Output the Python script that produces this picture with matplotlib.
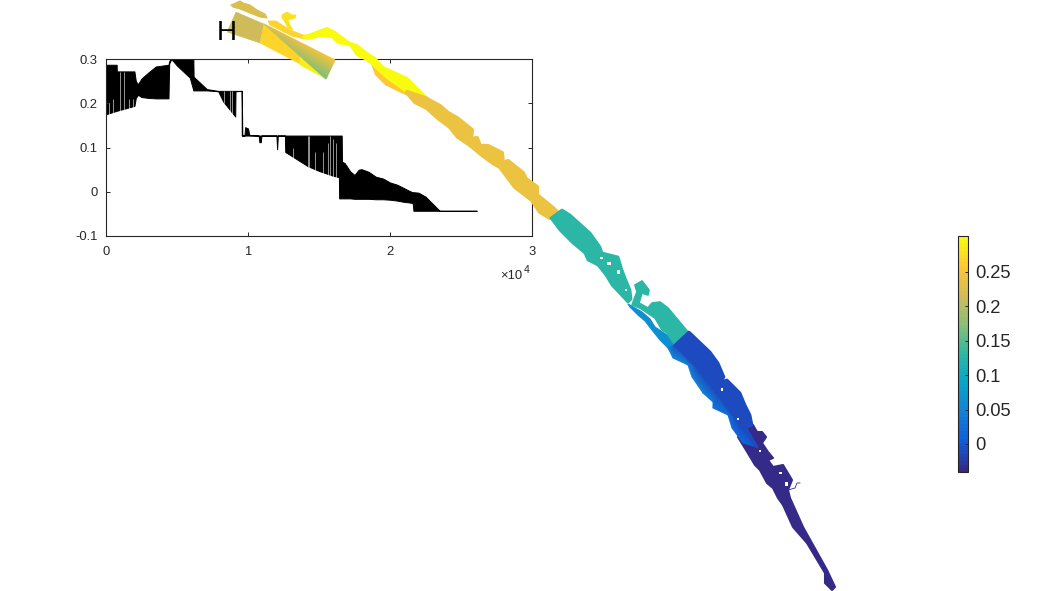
import numpy as np
import matplotlib
matplotlib.use('Agg')
import matplotlib.pyplot as plt
from matplotlib.colors import LinearSegmentedColormap, Normalize
from matplotlib.cm import ScalarMappable

plt.rcParams['font.family'] = ['Liberation Sans', 'DejaVu Sans']

# ------------------------------------------------------------------------------
# Inset trace, envelope (x in units of 1e4)
# ------------------------------------------------------------------------------
env_x = [0, .075, .076, .2, .21, .225, .25, .3, .35, .44, .445, .46, .5, .59, .615, .617, .71, .79, .825, .91, .912,
         .955, .956, .96, .975, .98, 1.0, 1.01, 1.075, 1.08, 1.09, 1.095, 1.2, 1.205, 1.21, 1.26, 1.262,
         1.42, 1.5, 1.6, 1.64, 1.642, 1.66, 1.662, 1.68, 1.72, 1.75, 1.78, 1.8, 1.85, 1.9, 1.95, 2.0, 2.05, 2.1, 2.13, 2.15, 2.16, 2.165, 2.2,
         2.25, 2.35, 2.61]
env_hi = [.287, .287, .272, .272, .25, .243, .256, .27, .283, .287, .295, .3, .3, .3, .3, .26, .232, .228, .228, .228, .228,
          .228, .228, .127, .127, .146, .143, .128, .127, .127, .127, .127, .127, .127, .127, .127, .127,
          .127, .127, .127, .127, .127, .127, .068, .065, .046, .038, .05, .051, .045, .034, .03, .021, .016, .008, .003, 0, -.001, -.001, -.002,
          -.011, -.043, -.043]
env_lo = [.175, .183, .183, .194, .212, .219, .214, .212, .211, .211, .29, .3, .285, .258, .229, .229, .229, .227, .204, .17, .227,
          .228, .127, .127, .127, .127, .127, .127, .127, .112, .112, .127, .127, .096, .127, .127, .09,
          .058, .047, .036, .033, -.015, -.015, -.015, -.015, -.015, -.016, -.016, -.016, -.016, -.017, -.017, -.018, -.02, -.023, -.024, -.025, -.026, -.043, -.043,
          -.043, -.043, -.043]

slit_x = [.02, .05, .10, .13, .16, .19, .83, .87, .89, 1.32, 1.42, 1.43, 1.47, 1.53, 1.56, 1.58, 1.6, 1.62]
slit_lo = [.17, .17, .18, .18, .18, .18, .2, .18, .17, .07, .05, .05, .04, .03, .03, .03, .03, .03]
slit_hi = [.2, .21, .27, .27, .21, .21, .227, .227, .227, .1, .126, .126, .09, .09, .11, .126, .12, .11]

x_ticks = [0, 1, 2, 3]
y_ticks = [-0.1, 0, 0.1, 0.2, 0.3]
y_tick_labels = ['-0.1', '0', '0.1', '0.2', '0.3']

# ------------------------------------------------------------------------------
# River outlines, in figure pixels, each with a colour value
# ------------------------------------------------------------------------------
top_blob_x = [231, 240, 243, 250, 257, 265, 267, 260, 250, 240, 233]
top_blob_y = [5, 1, 3, 5, 10, 14, 18, 17, 13, 9, 7]
top_blob_v = .225

curl_x = [282, 287, 292, 296, 295, 288, 290, 293, 288, 285, 282]
curl_y = [15, 12, 15, 15, 18, 20, 25, 30, 28, 22, 18]
curl_v = .28

neck_x = [268, 276, 290, 303, 310, 312, 305, 292, 280, 270]
neck_y = [21, 21, 30, 35, 35, 37, 39, 36, 30, 25]
neck_v = .265

yellow_x = [303, 316, 327, 335, 343, 350, 357, 367, 375, 383, 407, 427, 425, 410, 400, 387, 373, 367, 357, 350, 338, 332, 320, 308]
yellow_y = [37, 32, 28, 32, 38, 43, 45, 53, 58, 67, 78, 98, 100, 95, 87, 78, 65, 60, 55, 45, 43, 37, 36, 39]
yellow_v = .298

under_x = [373, 387, 407, 427, 438, 427, 415, 407, 398, 386, 376]
under_y = [65, 72, 84, 98, 118, 108, 102, 94, 90, 84, 74]
under_v = .255

gold_x = [425, 440, 448, 457, 472, 471, 477, 480, 488, 502, 503, 508, 523, 526, 537, 537, 553, 557,
          550, 540, 532, 515, 500, 493, 482, 470, 458, 450, 438, 427, 415, 407]
gold_y = [98, 106, 113, 118, 130, 139, 138, 146, 146, 153, 163, 161, 173, 179, 187, 195, 208, 212,
          218, 212, 200, 187, 167, 163, 155, 145, 137, 127, 118, 108, 102, 92]
gold_v = .24

teal_x = [551, 562, 570, 590, 600, 602, 618, 622, 625, 630, 631, 628, 612, 606, 598, 588, 585, 573, 560]
teal_y = [218, 210, 215, 233, 247, 253, 257, 270, 278, 290, 299, 302, 285, 275, 265, 260, 253, 243, 230]
teal_v = .13

teal2_x = [635, 642, 649, 648, 642, 639, 648, 652, 660, 668, 688, 675, 667, 662, 655, 640, 632, 635, 637]
teal2_y = [285, 281, 290, 295, 293, 303, 308, 303, 302, 308, 332, 345, 333, 330, 318, 308, 305, 297, 292]
teal2_v = .13

thin_x = [628, 642, 650, 655, 667, 675, 668, 660, 652, 645, 638, 630]
thin_y = [304, 312, 319, 327, 335, 345, 348, 340, 330, 321, 315, 307]
thin_v = .065

blue_x = [689, 710, 718, 724, 720, 727, 740, 745, 750, 752, 746, 757, 737, 717, 697, 675]
blue_y = [332, 352, 363, 377, 382, 380, 393, 405, 415, 425, 428, 447, 420, 393, 367, 345]
blue_v = -.013

band_out_x = [675, 668, 673, 688, 692, 703, 713, 713, 728, 732, 743, 757]
band_out_y = [345, 348, 358, 365, 377, 393, 402, 408, 415, 428, 443, 447]
band_out_v = [.065, .06, .055, .05, .05, .045, .035, .03, .025, .02, .015, .0]
band_in_x = [675, 697, 717, 737, 757]
band_in_y = [345, 367, 393, 420, 447]
band_in_v = [-.01, -.01, -.01, -.01, -.02]

tail_x = [746, 753, 757, 762, 766, 762, 768, 773, 768, 773, 783, 792, 788, 790, 803, 827, 835, 832, 825, 825, 807, 793,
          783, 778, 773, 767, 760, 755, 746, 738]
tail_y = [428, 425, 432, 432, 437, 443, 452, 458, 460, 467, 465, 480, 490, 498, 527, 570, 587, 590, 583, 573, 543, 527,
          505, 498, 488, 483, 470, 465, 450, 437]
tail_v = -.038

squiggle_x = [788, 795, 797, 800]
squiggle_y = [490, 488, 483, 483]

hole_x = [607, 617, 625, 600, 721, 737, 759, 779, 785]
hole_y = [262, 270, 289, 257, 388, 418, 450, 472, 482]
hole_w = [4, 3, 2, 3, 2, 2, 2, 3, 3]
hole_h = [3, 4, 2, 2, 3, 2, 2, 2, 4]

# Rectangle patch near the top of the river
rect_tan_x = [236, 264, 260, 227]
rect_tan_y = [12, 24, 43, 32]
rect_tan_v = .216
rect_gold_x = [264, 300, 300, 260]
rect_gold_y = [24, 56, 64, 43]
rect_gold_v = .268
rect_yellow_x = [300, 326, 300]
rect_yellow_y = [56, 79, 65]
rect_yellow_v = .29
rect_grad_x = [264, 335, 326]
rect_grad_y = [24, 60, 79]
rect_grad_v = [.225, .252, .165]

# Colour bar
cb_ticks = [0, 0.05, 0.1, 0.15, 0.2, 0.25]
cb_labels = ['0', '0.05', '0.1', '0.15', '0.2', '0.25']
v_min = -0.0407
v_max = 0.302

# ------------------------------------------------------------------------------
# Figure
# ------------------------------------------------------------------------------
W, H = 1063, 591
parula = LinearSegmentedColormap.from_list(
    'parula', ['#352a87', '#0f5cdd', '#1481d6', '#06a4ca', '#2eb7a4', '#87bf77', '#d1bb59', '#fec832', '#f9fb0e'], N=64)
norm = Normalize(v_min, v_max)
dark = '#262626'

fig = plt.figure(figsize=(W / 100, H / 100), dpi=100)


def px_axes(left, top, right, bottom, **kw):
    return fig.add_axes([left / W, 1 - bottom / H, (right - left) / W, (bottom - top) / H], **kw)


# Inset
ax = px_axes(106, 59, 532, 236)
ax.fill_between(env_x, env_lo, env_hi, color='black', linewidth=0.7)
ax.vlines(slit_x, slit_lo, slit_hi, color='white', linewidth=0.4)
ax.set_xlim(0, 3)
ax.set_ylim(-0.1, 0.3)
ax.set_xticks(x_ticks)
ax.set_xticklabels([str(t) for t in x_ticks])
ax.set_yticks(y_ticks)
ax.set_yticklabels(y_tick_labels)
ax.tick_params(direction='in', top=True, right=True, length=3, width=0.7, labelsize=9.4, colors=dark)
ax.tick_params(axis='x', pad=7)
ax.tick_params(axis='y', pad=6)
for side in ax.spines.values():
    side.set_color(dark)
    side.set_linewidth(0.8)

# River, on top of the inset
riv = px_axes(0, 0, W, H, zorder=3)
riv.patch.set_alpha(0)
riv.set_xlim(0, W)
riv.set_ylim(H, 0)
riv.axis('off')

# Thick round strokes make the hand-traced outlines look less angular
stroke_parts = [
    (top_blob_x, top_blob_y, top_blob_v, 0.8),
    (curl_x, curl_y, curl_v, 0.6),
    (neck_x, neck_y, neck_v, 0.6),
    (under_x, under_y, under_v, 2.0),
    (yellow_x, yellow_y, yellow_v, 1.5),
    (gold_x, gold_y, gold_v, 3.0),
    (thin_x, thin_y, thin_v, 0.8),
    (teal_x, teal_y, teal_v, 2.0),
    (teal2_x, teal2_y, teal2_v, 1.2),
    (tail_x, tail_y, tail_v, 1.5),
]
for xs, ys, val, lw in stroke_parts:
    riv.fill(xs, ys, color=parula(norm(val)), linewidth=lw, joinstyle='round')

# Rectangle pieces keep their sharp corners
flat_parts = [
    (rect_tan_x, rect_tan_y, rect_tan_v),
    (rect_gold_x, rect_gold_y, rect_gold_v),
    (rect_yellow_x, rect_yellow_y, rect_yellow_v),
]
for xs, ys, val in flat_parts:
    riv.fill(xs, ys, color=parula(norm(val)), linewidth=0.3)

# Gradient strip between outer and inner edge of the blue band. Triangles are
# listed by hand, the default Delaunay fills in the concave outer edge.
band_x = np.array(band_out_x + band_in_x, dtype=float)
band_y = np.array(band_out_y + band_in_y, dtype=float)
band_v = np.array(band_out_v + band_in_v, dtype=float)
n_out = len(band_out_x)
band_tris = []
j = 0
for i in range(n_out - 1):
    # move along the inner edge while the next inner point is closer to this outer point
    while j < len(band_in_x) - 1 and band_out_y[i + 1] > band_in_y[j + 1]:
        band_tris.append([i, n_out + j, n_out + j + 1])
        j += 1
    band_tris.append([i, i + 1, n_out + j])
riv.tripcolor(band_x, band_y, band_tris, band_v, shading='gouraud', cmap=parula, norm=norm)
riv.fill(blue_x, blue_y, color=parula(norm(blue_v)), linewidth=2.0, joinstyle='round')
riv.tripcolor(rect_grad_x, rect_grad_y, [[0, 1, 2]], rect_grad_v, shading='gouraud', cmap=parula, norm=norm)
riv.plot(squiggle_x, squiggle_y, color=parula(norm(tail_v)), linewidth=0.6)

for hx, hy, hw, hh in zip(hole_x, hole_y, hole_w, hole_h):
    riv.fill([hx, hx + hw, hx + hw, hx], [hy, hy, hy + hh, hy + hh], color='white', linewidth=0)

riv.set_xlim(0, W)
riv.set_ylim(H, 0)
riv.text(227, 33, 'H', fontsize=20, color='black', ha='center', va='center')
riv.text(511, 276, '\u00d710', fontsize=9.4, color=dark, ha='center', va='center')
riv.text(527, 270, '4', fontsize=7.5, color=dark, ha='center', va='center')

# Colour bar
cax = px_axes(958, 236, 968, 472)
cb = fig.colorbar(ScalarMappable(norm=norm, cmap=parula), cax=cax, ticks=cb_ticks)
cb.ax.set_yticklabels(cb_labels)
cb.ax.tick_params(direction='in', length=2, width=0.7, labelsize=13.2, colors=dark, pad=5)
cb.outline.set_edgecolor(dark)
cb.outline.set_linewidth(0.8)

fig.savefig('out.png', dpi=100)
